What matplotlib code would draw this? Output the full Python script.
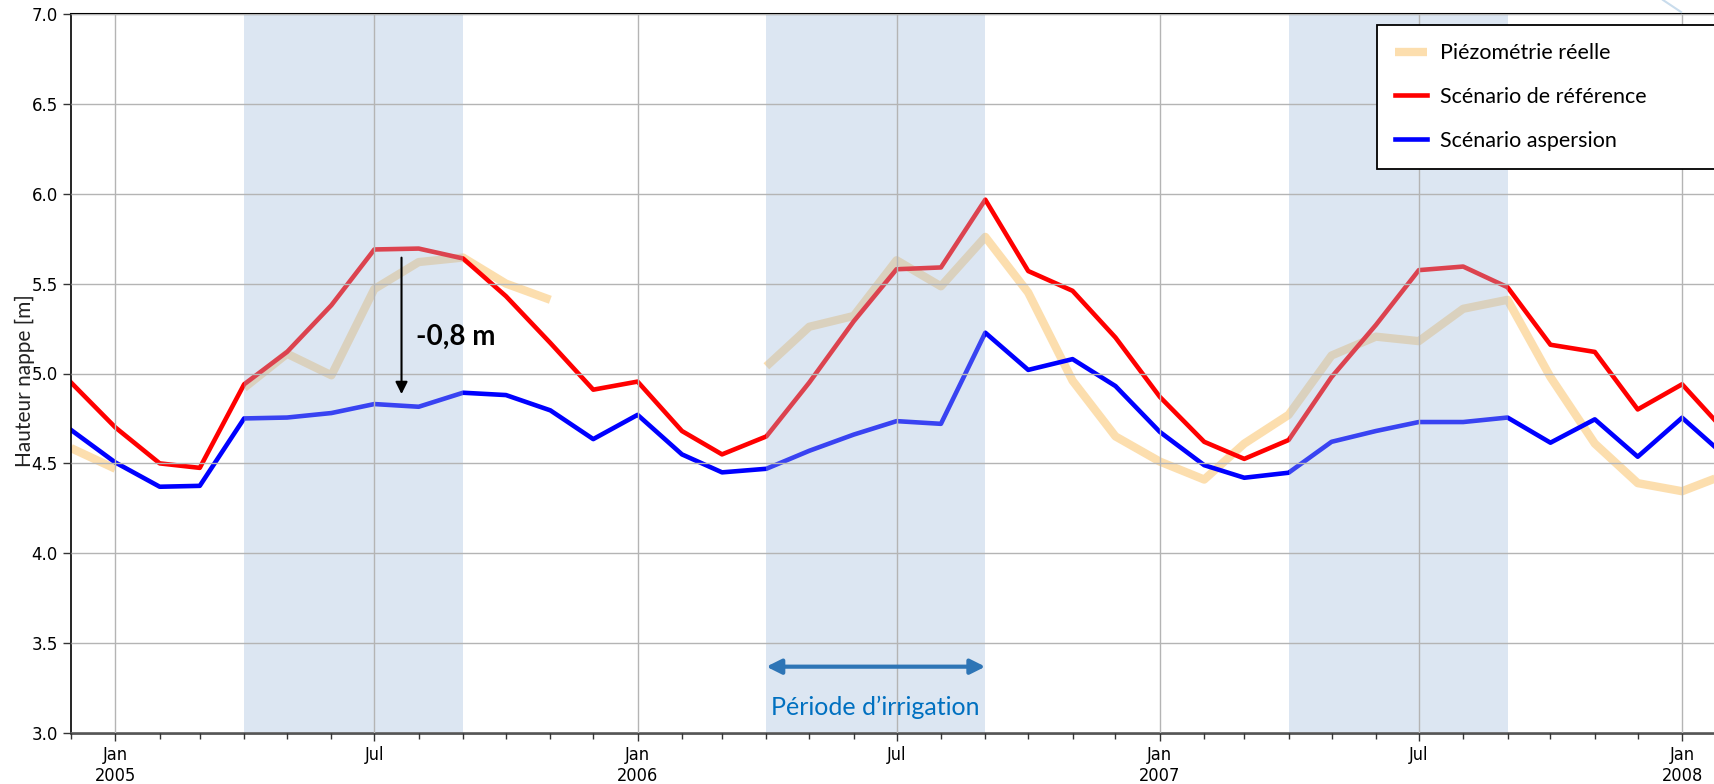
import numpy as np
import pandas as pd
import matplotlib
matplotlib.use('Agg')
import matplotlib.pyplot as plt
import matplotlib.dates as mdates
from matplotlib.lines import Line2D

plt.rcParams['font.family'] = ['DejaVu Sans']

# monthly values (Dec 2004 -> Feb 2008)
dates = pd.date_range('2004-12-01', '2008-02-01', freq='MS')

reel = [4.585, 4.47, np.nan, np.nan, 4.92, 5.11, 4.99, 5.47, 5.62, 5.645, 5.50, 5.41, np.nan,
        np.nan, np.nan, np.nan, 5.04, 5.26, 5.32, 5.63, 5.485, 5.76, 5.45, 4.96, 4.65,
        4.51, 4.41, 4.61, 4.77, 5.10, 5.205, 5.18, 5.36, 5.41, 4.98, 4.61, 4.39,
        4.345, 4.44]
reference = [4.95, 4.70, 4.50, 4.475, 4.94, 5.12, 5.38, 5.69, 5.695, 5.64, 5.43, 5.17, 4.91,
             4.955, 4.68, 4.55, 4.65, 4.95, 5.29, 5.58, 5.59, 5.967, 5.57, 5.46, 5.20,
             4.87, 4.62, 4.525, 4.63, 4.98, 5.27, 5.575, 5.595, 5.48, 5.16, 5.12, 4.80,
             4.94, 4.67]
aspersion = [4.686, 4.505, 4.37, 4.375, 4.75, 4.755, 4.78, 4.83, 4.815, 4.893, 4.88, 4.795, 4.635,
             4.77, 4.55, 4.45, 4.47, 4.57, 4.66, 4.735, 4.72, 5.227, 5.02, 5.08, 4.93,
             4.675, 4.49, 4.42, 4.448, 4.62, 4.68, 4.73, 4.73, 4.755, 4.615, 4.745, 4.537,
             4.754, 4.535]

irrigation = [('2005-04-01', '2005-09-01'), ('2006-04-01', '2006-09-01'), ('2007-04-01', '2007-09-01')]

txt_font = ['Lato', 'DejaVu Sans']

fig = plt.figure(figsize=(17.15, 7.84), dpi=100)
ax = fig.add_axes([71 / 1715, 51 / 784, 1 - 71 / 1715, 719 / 784])

ax.plot(dates, reel, color='#fcd9a0', lw=6, alpha=0.85, solid_capstyle='butt', zorder=2,
        label='Piézométrie réelle')
ax.plot(dates, reference, color='#ff0000', lw=3.3, zorder=2, label='Scénario de référence')
ax.plot(dates, aspersion, color='#0000ff', lw=3.3, zorder=2, label='Scénario aspersion')

for d0, d1 in irrigation:
    ax.axvspan(pd.Timestamp(d0), pd.Timestamp(d1), color='#a0bcdd', alpha=0.36, lw=0, zorder=2.2)

ax.set_xlim(pd.Timestamp('2004-12-01'), pd.Timestamp('2008-01-24'))
ax.set_ylim(3.0, 7.0)
ax.set_yticks(np.arange(3.0, 7.01, 0.5))
ax.yaxis.set_major_formatter(plt.FormatStrFormatter('%.1f'))

ax.xaxis.set_major_locator(mdates.MonthLocator(bymonth=[1, 7]))
ax.xaxis.set_minor_locator(mdates.MonthLocator())


def fmt_date(x, pos=None):
    d = mdates.num2date(x)
    if d.month == 1:
        return 'Jan\n%d' % d.year
    return d.strftime('%b')


ax.xaxis.set_major_formatter(plt.FuncFormatter(fmt_date))
ax.tick_params(axis='y', which='major', labelsize=12, length=6, width=1, color='#333333')
ax.tick_params(axis='x', which='major', labelsize=13, length=6, width=1, color='#333333')
ax.tick_params(axis='x', which='minor', length=4, width=1, color='#333333')
ax.set_axisbelow(False)
ax.grid(which='major', color='#b4b4b4', lw=1.0)
for lab in ax.get_xticklabels():
    lab.set_fontstretch('condensed')

ax.spines['right'].set_visible(False)
ax.spines['bottom'].set_linewidth(2)
ax.spines['bottom'].set_color('#555555')
ax.spines['left'].set_linewidth(1.2)
ax.spines['top'].set_linewidth(1.5)

ax.set_ylabel('Hauteur nappe [m]', fontsize=15, family=txt_font, color='#222222')
ax.yaxis.set_label_coords(-0.022, 0.49)

# drawdown annotation
ax.annotate('', xy=(pd.Timestamp('2005-07-20'), 4.87), xytext=(pd.Timestamp('2005-07-20'), 5.66),
            arrowprops=dict(arrowstyle='-|>', color='black', lw=1.5, mutation_scale=18), zorder=5)
ax.text(pd.Timestamp('2005-07-30'), 5.205, '-0,8 m', fontsize=20, fontweight='bold',
        family=txt_font, va='center', ha='left', zorder=5)

# irrigation period arrow
ax.annotate('', xy=(pd.Timestamp('2006-04-01'), 3.369), xytext=(pd.Timestamp('2006-09-01'), 3.369),
            arrowprops=dict(arrowstyle='<|-|>', color='#2e75b6', lw=3, mutation_scale=22,
                            shrinkA=0, shrinkB=0), zorder=5)
ax.text(pd.Timestamp('2006-06-16'), 3.145, 'Période d\u2019irrigation', fontsize=18,
        family=txt_font, color='#0070c0', ha='center', va='center', zorder=5)

leg = ax.legend(loc='upper left', bbox_to_anchor=(1376.7 / 1715, 759 / 784, 0.25, 0.0),
                bbox_transform=fig.transFigure, mode='expand', fancybox=False, framealpha=1,
                edgecolor='black', prop={'family': txt_font, 'size': 15.5}, borderpad=0.85,
                labelspacing=1.1, handlelength=1.5, handletextpad=0.6, borderaxespad=0)
leg.get_frame().set_linewidth(1.3)
leg.set_zorder(6)

# small decorative stroke at the top right corner of the slide
fig.add_artist(Line2D([1663 / 1715, 1681 / 1715], [1.0, 772 / 784], color='#c9dcec', lw=1.5))

fig.savefig('out.png', dpi=100)
